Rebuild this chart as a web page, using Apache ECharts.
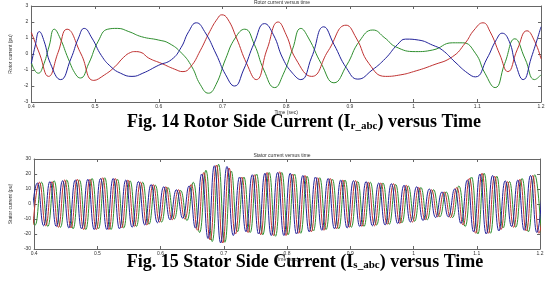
<!DOCTYPE html>
<html><head><meta charset="utf-8">
<script src="https://cdn.jsdelivr.net/npm/echarts@6/dist/echarts.min.js"></script>
<style>html,body{margin:0;padding:0;background:#fff}#c{width:555px;height:282px}</style>
</head><body><div id="c"></div>
<script>
// ---------- data ----------
const xTickMin = 0.4, xTickMax = 1.2, xTickStep = 0.1;

// Rotor currents (pu), [time s, value]
const rotorRed = [[0.400,1.35],[0.413,0.0],[0.427,-1.4],[0.442,0.1],[0.456,1.55],[0.478,0.0],[0.498,-1.65],[0.515,-1.3],[0.531,-0.8],[0.545,-0.2],[0.556,0.1],[0.5625,0.15],[0.572,0.1],[0.584,-0.25],[0.605,-0.6],[0.625,-0.95],[0.638,-1.1],[0.650,-0.8],[0.665,0.2],[0.680,1.4],[0.692,2.2],[0.699,2.45],[0.708,2.2],[0.722,1.0],[0.738,-0.6],[0.753,-1.6],[0.770,0.3],[0.7875,2.0],[0.800,1.2],[0.815,-0.3],[0.840,-1.4],[0.866,0.2],[0.894,1.8],[0.910,1.0],[0.930,-0.6],[0.956,-1.4],[0.980,-1.3],[1.000,-1.1],[1.030,-0.7],[1.061,-0.17],[1.081,0.68],[1.095,1.5],[1.109,1.95],[1.120,1.4],[1.135,0.0],[1.148,-1.1],[1.163,0.3],[1.178,1.45],[1.190,0.8],[1.200,-0.3]];
const rotorGreen = [[0.400,-0.5],[0.405,-1.0],[0.411,-1.2],[0.418,-0.8],[0.428,0.5],[0.436,1.55],[0.445,1.0],[0.458,-0.3],[0.470,-1.3],[0.477,-1.5],[0.490,-0.6],[0.505,0.8],[0.520,1.55],[0.535,1.6],[0.553,1.4],[0.573,1.08],[0.600,0.87],[0.616,0.67],[0.636,0.05],[0.652,-0.8],[0.665,-1.9],[0.678,-2.45],[0.690,-1.9],[0.705,-0.3],[0.720,1.0],[0.735,1.55],[0.750,0.6],[0.765,-1.0],[0.782,-2.1],[0.795,-1.3],[0.810,0.3],[0.823,1.6],[0.835,1.0],[0.855,-0.6],[0.875,-1.8],[0.895,-0.7],[0.915,0.8],[0.936,1.5],[0.955,1.0],[0.972,0.45],[1.003,0.15],[1.030,0.25],[1.061,0.7],[1.077,0.7],[1.097,0.05],[1.112,-1.2],[1.128,-2.1],[1.143,-0.6],[1.159,0.95],[1.175,-0.3],[1.190,-1.6],[1.200,-1.3]];
const rotorBlue = [[0.400,-0.6],[0.406,0.5],[0.4125,1.4],[0.420,0.8],[0.430,-0.6],[0.446,-1.6],[0.462,-0.3],[0.474,1.0],[0.483,1.6],[0.495,1.0],[0.510,-0.1],[0.525,-0.8],[0.540,-1.2],[0.558,-1.4],[0.575,-1.2],[0.600,-0.7],[0.620,-0.35],[0.635,0.4],[0.647,1.4],[0.659,1.95],[0.672,1.4],[0.690,0.0],[0.705,-1.3],[0.719,-2.0],[0.733,-1.0],[0.750,0.7],[0.766,1.9],[0.780,1.2],[0.795,-0.3],[0.810,-1.2],[0.823,-1.6],[0.840,-0.2],[0.859,1.7],[0.875,0.6],[0.895,-0.9],[0.9125,-1.57],[0.935,-1.0],[0.956,-0.27],[0.975,0.6],[0.9875,0.93],[1.008,0.87],[1.030,0.55],[1.045,0.25],[1.065,-0.5],[1.085,-1.2],[1.097,-1.43],[1.115,-0.3],[1.130,0.9],[1.139,1.3],[1.150,0.8],[1.160,-0.6],[1.172,-1.6],[1.185,-0.2],[1.200,1.7]];

// Stator currents: signed half-cycle peak values, one every 10 ms per phase
const statorHalfCycle = 0.01;
const statorStartA = 0.395, statorStartB = 0.39167, statorStartC = 0.39833;
const statorA = [-14,14,-14.5,15,-15,15.5,-16,16,-16.5,16.5,-17,17,-17,17,-16.5,16,-15.5,15,-14,13,-12.5,11.5,-10.5,9.5,-9.5,12,-16,20,-23,25.5,-26,25,-21,18,-18.5,19.5,-20,20.5,-21,21,-21,20.5,-20,19,-18.5,18,-17.5,17,-16.5,16,-16,15.5,-15,15,-14.5,14,-14,13.5,-13,12.5,-12,11.5,-11,10,-9,8,-8.5,10,-13,16,-18.5,20,-20,19,-18,15.5,-15,16,-17.5,19,-19,19];
const statorB = [13.5,-14,14.5,-15,15.5,-15.5,16,-16.5,16,-17,17,-16.5,17.5,-17,16.5,-16,15.5,-15,14.5,-13.5,12.5,-12,11,-10,9,-11,14.5,-19,22.5,-25,26.5,-25.5,22,-18.5,18,-19,20,-20.5,21,-21.5,21,-20.5,20,-19.5,18.5,-18,17.5,-17,16.5,-16.5,16,-15.5,15,-15,14.5,-14,14,-13.5,13,-12.5,12,-11.5,11,-10.5,9.5,-8.5,8,-9,12,-15,18,-20,20.5,-19.5,18.5,-16,15,-15.5,17,-18.5,19.5,-19];
const statorC = [-14,14.5,-14.5,15,-15.5,16,-16,16.5,-17,16.5,-17,17.5,-17,17,-16,16,-15,14.5,-14,13,-12,11.5,-10.5,9.5,-10,13,-17.5,21,-24,26,-26,24,-20,18,-19,19.5,-20.5,21,-21,21.5,-21,20,-19.5,19,-18.5,17.5,-17.5,17,-16.5,16,-15.5,15.5,-15,14.5,-14.5,14,-13.5,13.5,-13,12.5,-12,11,-10.5,9.5,-8.5,8,-9,11,-14,17,-19.5,20.5,-19.5,18.5,-17,15,-15.5,16.5,-18,19,-19.5,19];

// ---------- chart ----------
function peaks(start, vals){ return vals.map((v,i)=>[start + i*statorHalfCycle, v]); }

const cRed = '#c03232', cGreen = '#2f8f2f', cBlue = '#22229a';
const tickFont = {fontSize:5, color:'#333', fontFamily:'Liberation Sans'};
const axisCol = '#666';

function xAx(gi, pos, show){
  return {type:'value', gridIndex:gi, position:pos, min:xTickMin, max:xTickMax, interval:xTickStep,
    axisLine:{show:true, onZero:false, lineStyle:{color:axisCol, width:1}},
    axisTick:{show:true, inside:true, length:3, lineStyle:{color:axisCol}},
    axisLabel:Object.assign({show:show, margin:2}, tickFont),
    splitLine:{show:false},
    name: show ? 'Time (sec)' : '', nameLocation:'middle', nameGap:7,
    nameTextStyle:{fontSize:5, color:'#333', fontFamily:'Liberation Sans'}};
}
function yAx(gi, pos, show, mn, mx, step, nm, gap){
  return {type:'value', gridIndex:gi, position:pos, min:mn, max:mx, interval:step,
    axisLine:{show:true, onZero:false, lineStyle:{color:axisCol, width:1}},
    axisTick:{show:true, inside:true, length:3, lineStyle:{color:axisCol}},
    axisLabel:Object.assign({show:show, margin:3}, tickFont),
    splitLine:{show:false},
    name: show ? nm : '', nameLocation:'middle', nameGap:gap,
    nameTextStyle:{fontSize:5, color:'#333', fontFamily:'Liberation Sans'}};
}
function ser(data, color, xi, yi){
  return {type:'line', data:data, xAxisIndex:xi, yAxisIndex:yi, showSymbol:false, smooth:true,
    lineStyle:{color:color, width:1}, itemStyle:{color:color}, animation:false, clip:true};
}

const capRich = {
  m:{fontSize:18, fontFamily:'Liberation Serif', fontWeight:'bold', color:'#111', lineHeight:18, verticalAlign:'middle'},
  s:{fontSize:11, fontFamily:'Liberation Serif', fontWeight:'bold', color:'#111', lineHeight:10, verticalAlign:'bottom'}
};

const option = {
  backgroundColor:'#fff',
  animation:false,
  grid:[
    {left:29, top:6, width:512, height:96},
    {left:23, top:159, width:517, height:90}
  ],
  xAxis:[ xAx(0,'bottom',true), xAx(0,'top',false), xAx(1,'bottom',true), xAx(1,'top',false) ],
  yAxis:[
    yAx(0,'left',true,-3,3,1,'Rotor current (pu)',11), yAx(0,'right',false,-3,3,1,'',0),
    yAx(1,'left',true,-30,30,10,'Stator current (pu)',10), yAx(1,'right',false,-30,30,10,'',0)
  ],
  series:[
    ser(rotorGreen, cGreen, 0, 0),
    ser(rotorRed, cRed, 0, 0),
    ser(rotorBlue, cBlue, 0, 0),
    ser(peaks(statorStartB, statorB), cGreen, 2, 2),
    ser(peaks(statorStartC, statorC), cRed, 2, 2),
    ser(peaks(statorStartA, statorA), cBlue, 2, 2)
  ],
  graphic:[
    {type:'text', x:282, y:0, style:{text:'Rotor current versus time', fontSize:5, fontFamily:'Liberation Sans', fill:'#333', align:'center', verticalAlign:'top'}},
    {type:'text', x:282, y:153, style:{text:'Stator current versus time', fontSize:5, fontFamily:'Liberation Sans', fill:'#333', align:'center', verticalAlign:'top'}},
    {type:'text', x:304, y:113.5, style:{text:'{m|Fig. 14 Rotor Side Current (I}{s|r_abc}{m|) versus Time}', rich:capRich, align:'center', verticalAlign:'top'}},
    {type:'text', x:305, y:253, style:{text:'{m|Fig. 15 Stator Side Current (I}{s|s_abc}{m|) versus Time}', rich:capRich, align:'center', verticalAlign:'top'}}
  ]
};
const chart = echarts.init(document.getElementById('c'), null, {renderer:'canvas'});
chart.setOption(option);
</script></body></html>
